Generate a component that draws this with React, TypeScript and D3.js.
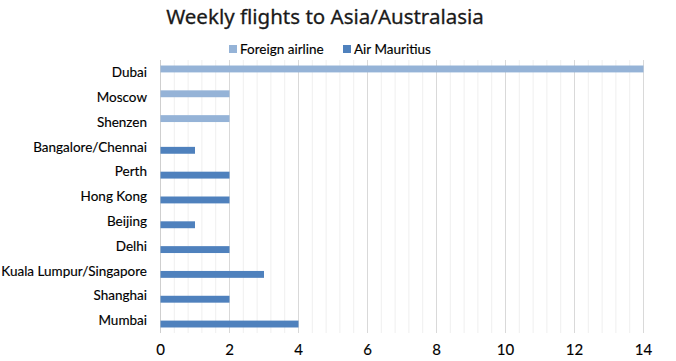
import React, { useRef, useEffect } from 'react';
import * as d3 from 'd3';

const destinations = [
  'Dubai', 'Moscow', 'Shenzen', 'Bangalore/Chennai', 'Perth', 'Hong Kong',
  'Beijing', 'Delhi', 'Kuala Lumpur/Singapore', 'Shanghai', 'Mumbai',
];
const foreignAirline = [14, 2, 2, 0, 0, 0, 0, 0, 0, 0, 0];
const airMauritius = [0, 0, 0, 1, 2, 2, 1, 2, 3, 2, 4];
const seriesNames = ['Foreign airline', 'Air Mauritius'];
const xTicks = [0, 2, 4, 6, 8, 10, 12, 14];

const colors = ['#95B3D7', '#4F81BD'];
const labelFont = 'Lato, "Open Sans", sans-serif';

function App() {
  const ref = useRef<SVGSVGElement>(null);

  useEffect(() => {
    const svg = d3.select(ref.current);
    svg.selectAll('*').remove();

    const margin = { top: 60, left: 160.5, right: 32.5, bottom: 28 };
    const width = 676;
    const height = 361;

    const x = d3.scaleLinear().domain([0, 14]).range([margin.left, width - margin.right]);
    const y = d3.scaleBand().domain(destinations).range([margin.top, height - margin.bottom]);
    const inner = d3.scaleBand().domain(seriesNames).range([0, y.bandwidth()]).paddingInner(0).paddingOuter(0.8);

    // minor gridlines every 0.4
    const minor = d3.range(0, 14.01, 0.4).filter(v => Math.abs(v / 2 - Math.round(v / 2)) > 0.01);
    svg.append('g')
      .selectAll('line')
      .data(minor)
      .join('line')
      .attr('x1', d => x(d)).attr('x2', d => x(d))
      .attr('y1', margin.top).attr('y2', height - margin.bottom)
      .attr('stroke', '#efefef');

    svg.append('g')
      .selectAll('line')
      .data(xTicks)
      .join('line')
      .attr('x1', d => x(d)).attr('x2', d => x(d))
      .attr('y1', margin.top).attr('y2', height - margin.bottom)
      .attr('stroke', d => (d === 0 ? '#cfcfcf' : '#d9d9d9'));

    const values = [foreignAirline, airMauritius];
    values.forEach((vals, si) => {
      svg.append('g')
        .selectAll('rect')
        .data(vals.map((v, i) => ({ v, name: destinations[i] })).filter(d => d.v > 0))
        .join('rect')
        .attr('x', x(0))
        .attr('y', d => (y(d.name) as number) + (inner(seriesNames[si]) as number))
        .attr('width', d => x(d.v) - x(0))
        .attr('height', inner.bandwidth())
        .attr('fill', colors[si]);
    });

    // category labels
    svg.append('g')
      .selectAll('text')
      .data(destinations)
      .join('text')
      .attr('x', 147)
      .attr('y', d => (y(d) as number) + y.bandwidth() / 2)
      .attr('dy', '0.35em')
      .attr('text-anchor', 'end')
      .attr('font-family', labelFont)
      .attr('font-size', 13.5)
      .attr('fill', '#000')
      .attr('stroke', '#000')
      .attr('stroke-width', 0.15)
      .text(d => d);

    // x tick labels
    svg.append('g')
      .selectAll('text')
      .data(xTicks)
      .join('text')
      .attr('x', d => x(d))
      .attr('y', 350)
      .attr('dy', '0.35em')
      .attr('text-anchor', 'middle')
      .attr('font-family', labelFont)
      .attr('font-size', 15)
      .attr('fill', '#000')
      .attr('stroke', '#000')
      .attr('stroke-width', 0.15)
      .text(d => d);

    // title
    svg.append('text')
      .attr('x', 325)
      .attr('y', 17)
      .attr('dy', '0.35em')
      .attr('text-anchor', 'middle')
      .attr('font-family', '"Noto Sans", sans-serif')
      .attr('font-size', 20.5)
      .attr('fill', '#1a1a1a')
      .attr('stroke', '#1a1a1a')
      .attr('stroke-width', 0.3)
      .text('Weekly flights to Asia/Australasia');

    // legend
    const legend = svg.append('g').attr('transform', 'translate(229,49)');
    const legendX = [0, 114];
    seriesNames.forEach((name, i) => {
      const g = legend.append('g').attr('transform', `translate(${legendX[i]},0)`);
      g.append('rect').attr('x', 0).attr('y', -4).attr('width', 8).attr('height', 8).attr('fill', colors[i]);
      g.append('text')
        .attr('x', 11)
        .attr('y', 0)
        .attr('dy', '0.35em')
        .attr('font-family', labelFont)
        .attr('font-size', 13.5)
        .attr('fill', '#000')
        .attr('stroke', '#000')
        .attr('stroke-width', 0.15)
        .text(name);
    });
  }, []);

  return (
    <svg ref={ref} width={676} height={361} style={{ position: 'absolute', left: 0, top: 0, background: '#fff' }} />
  );
}

export default App;
